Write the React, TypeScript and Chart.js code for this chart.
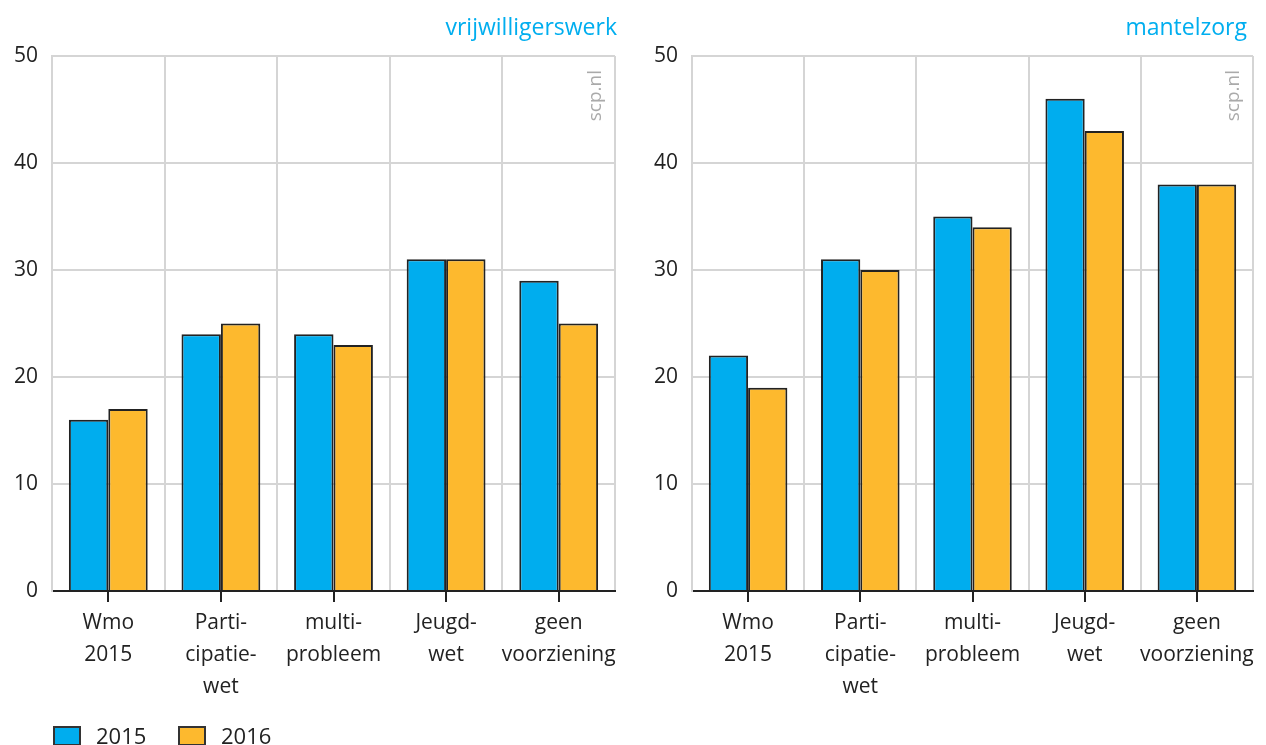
import React, { useEffect, useRef } from "react";
import { Chart, registerables } from "chart.js";

Chart.register(...registerables);

const categories: string[][] = [
  ["Wmo", "2015"],
  ["Parti-", "cipatie-", "wet"],
  ["multi-", "probleem"],
  ["Jeugd-", "wet"],
  ["geen", "voorziening"],
];
const seriesLabels = ["2015", "2016"];
const vrijwilligers2015 = [16, 24, 24, 31, 29];
const vrijwilligers2016 = [17, 25, 23, 31, 25];
const mantelzorg2015 = [22, 31, 35, 46, 38];
const mantelzorg2016 = [19, 30, 34, 43, 38];
const yMin = 0;
const yMax = 50;
const yStep = 10;

const BLUE = "#00adee";
const ORANGE = "#fdb92e";
const GRID = "#d5d5d5";
const TEXT = "#222222";
const FONT = "'Open Sans', 'Noto Sans', sans-serif";

type PanelProps = {
  title: string;
  titleOffset: number;
  a: number[];
  b: number[];
  yAxisWidth: number;
  rightPad: number;
  showLegend: boolean;
};

function Panel({ title, titleOffset, a, b, yAxisWidth, rightPad, showLegend }: PanelProps) {
  const ref = useRef<HTMLCanvasElement | null>(null);
  useEffect(() => {
    if (!ref.current) return;
    const decor = {
      id: "decor",
      afterDraw(chart: any) {
        const ctx = chart.ctx as CanvasRenderingContext2D;
        const area = chart.chartArea;
        const xs = chart.scales.x;
        ctx.save();
        // tick marks at category centres
        ctx.strokeStyle = TEXT;
        ctx.lineWidth = 2;
        for (let i = 0; i < xs.ticks.length; i++) {
          const px = Math.round(xs.getPixelForTick(i));
          ctx.beginPath();
          ctx.moveTo(px, area.bottom);
          ctx.lineTo(px, area.bottom + 11);
          ctx.stroke();
        }
        // title
        ctx.fillStyle = "#00aeef";
        ctx.font = `23px ${FONT}`;
        ctx.textAlign = "right";
        ctx.textBaseline = "alphabetic";
        ctx.fillText(title, area.right + titleOffset, 35);
        // watermark
        ctx.save();
        ctx.translate(area.right - 14, area.top + 14);
        ctx.rotate(-Math.PI / 2);
        ctx.fillStyle = "#aaaaaa";
        ctx.font = `19px ${FONT}`;
        ctx.textAlign = "right";
        ctx.textBaseline = "alphabetic";
        ctx.fillText("scp.nl", 0, 0);
        ctx.restore();
        // legend
        if (showLegend) {
          const ds = chart.data.datasets;
          let x = 54;
          ds.forEach((d: any) => {
            ctx.fillStyle = d.backgroundColor;
            ctx.fillRect(x, 727, 26, 18);
            ctx.strokeStyle = "#333333";
            ctx.lineWidth = 2;
            ctx.strokeRect(x, 727, 26, 18);
            ctx.fillStyle = TEXT;
            ctx.font = `22px ${FONT}`;
            ctx.textAlign = "left";
            ctx.fillText(d.label, x + 42, 744);
            x += 125;
          });
        }
        ctx.restore();
      },
    };
    const chart = new Chart(ref.current, {
      type: "bar",
      data: {
        labels: categories,
        datasets: [
          {
            label: seriesLabels[0],
            data: a,
            backgroundColor: BLUE,
            borderColor: "#222222",
            borderWidth: 2,
            categoryPercentage: 0.7,
            barPercentage: 1.0,
          },
          {
            label: seriesLabels[1],
            data: b,
            backgroundColor: ORANGE,
            borderColor: "#222222",
            borderWidth: 2,
            categoryPercentage: 0.7,
            barPercentage: 1.0,
          },
        ],
      },
      options: {
        animation: false,
        responsive: false,
        maintainAspectRatio: false,
        layout: { padding: { top: 56, right: rightPad, left: 0, bottom: 0 } },
        plugins: {
          legend: { display: false },
          title: { display: false },
          tooltip: { enabled: false },
        },
        scales: {
          x: {
            offset: true,
            grid: {
              offset: true,
              color: GRID,
              lineWidth: 2,
              drawTicks: false,
            },
            border: { display: true, color: TEXT, width: 2 },
            ticks: {
              padding: 16,
              color: TEXT,
              font: { family: FONT, size: 21, lineHeight: 32 / 21 },
              maxRotation: 0,
              autoSkip: false,
            },
            afterFit(scale: any) {
              scale.height = 745 - 591;
              scale.paddingLeft = 0;
              scale.paddingRight = 0;
            },
          },
          y: {
            min: yMin,
            max: yMax,
            ticks: {
              stepSize: yStep,
              padding: 14,
              color: TEXT,
              font: { family: FONT, size: 21 },
            },
            grid: { color: GRID, lineWidth: 2, drawTicks: false },
            border: { display: true, color: GRID, width: 2 },
            afterFit(scale: any) {
              scale.width = yAxisWidth;
              scale.paddingTop = 0;
              scale.paddingBottom = 0;
            },
          },
        },
      },
      plugins: [decor],
    });
    return () => chart.destroy();
  }, []);
  return <canvas ref={ref} width={633} height={745} style={{ display: "block", width: 633, height: 745 }} />;
}

export default function App() {
  return (
    <div style={{ position: "absolute", left: 0, top: 0, width: 1266, height: 745, display: "flex", background: "#fff", overflow: "hidden" }}>
      <Panel title="vrijwilligerswerk" titleOffset={2} a={vrijwilligers2015} b={vrijwilligers2016} yAxisWidth={52} rightPad={18} showLegend={true} />
      <Panel title="mantelzorg" titleOffset={-6} a={mantelzorg2015} b={mantelzorg2016} yAxisWidth={59} rightPad={13} showLegend={false} />
    </div>
  );
}
